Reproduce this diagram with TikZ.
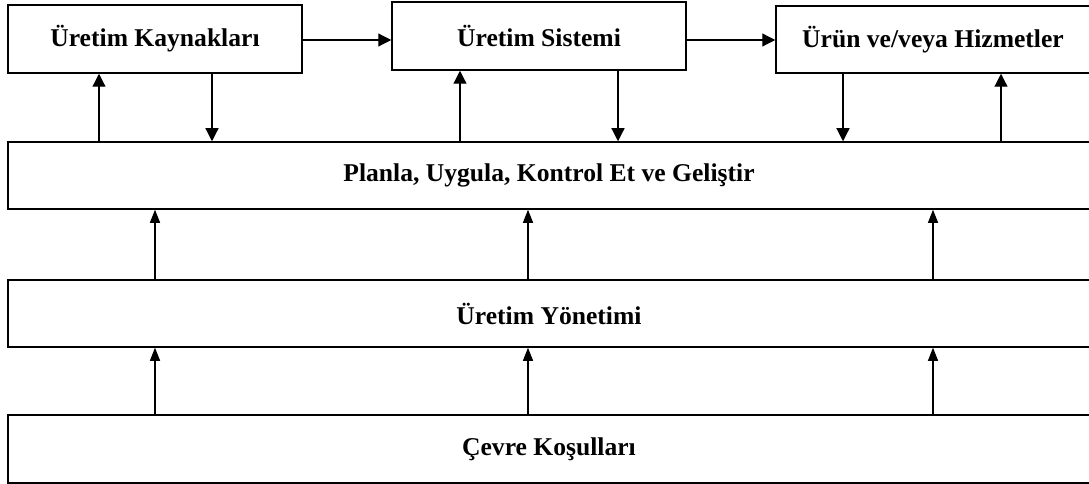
\documentclass[tikz,border=0pt]{standalone}
\usepackage{fontspec}
\setmainfont{Liberation Serif}
\usetikzlibrary{arrows.meta,calc}
\begin{document}
\begin{tikzpicture}[x=1pt,y=-1pt,
  box/.style={draw,line width=1.5pt,rectangle,inner sep=0pt,font=\fontsize{25.6}{30}\selectfont\bfseries},
  arr/.style={line width=1.2pt,-{Triangle[length=13pt,width=13pt]}},
  arrl/.style={line width=1.1pt,-{Triangle[length=13pt,width=10pt]}}]
\useasboundingbox (0,0) rectangle (1089,484);
\node[box,minimum width=294pt,minimum height=68pt] (b1) at (155,39) {Üretim Kaynakları};
\node[box,minimum width=294pt,minimum height=68pt] (b2) at (539,36) {Üretim Sistemi};
\node[box,minimum width=314pt,minimum height=67pt] (b3) at (933,39.5) {Ürün ve/veya Hizmetler};
\node[box,minimum width=1082pt,minimum height=67pt] (pl) at (549,175.5) {Planla, Uygula, Kontrol Et ve Geliştir};
\node[box,minimum width=1082pt,minimum height=67pt] (uy) at (549,313.5) {Üretim Yönetimi};
\node[box,minimum width=1082pt,minimum height=68pt] (cv) at (549,449) {Çevre Koşulları};
\coordinate (h) at (0,40);
\draw[arr] (b1.east |- h) -- (b2.west |- h);
\draw[arr] (b2.east |- h) -- (b3.west |- h);
\foreach \u/\d/\top in {99/212/b1, 460/618/b2, 1001/843/b3}{
  \draw[arr] (pl.north -| \u,0) -- (\top.south -| \u,0);
  \draw[arr] (\top.south -| \d,0) -- (pl.north -| \d,0);
}
\foreach \x in {155,528,933}{
  \draw[arrl] (uy.north -| \x,0) -- (pl.south -| \x,0);
  \draw[arrl] (cv.north -| \x,0) -- (uy.south -| \x,0);
}
\end{tikzpicture}
\end{document}
